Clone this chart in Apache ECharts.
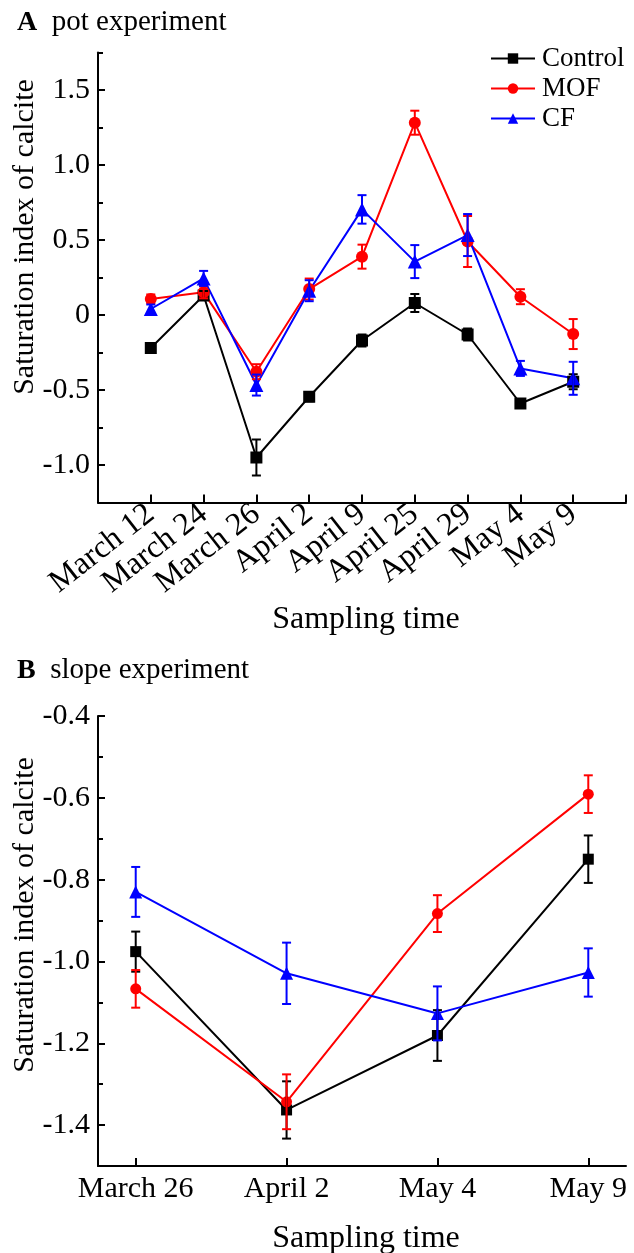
<!DOCTYPE html>
<html>
<head>
<meta charset="utf-8">
<script src="https://cdn.jsdelivr.net/npm/echarts@6/dist/echarts.min.js"></script>
<style>
html,body{margin:0;padding:0;background:#fff;}
#c{width:634px;height:1253px;}
</style>
</head>
<body>
<div id="c"></div>
<script>
// ---------- Data ----------
var topCategories = ['March 12','March 24','March 26','April 2','April 9','April 25','April 29','May 4','May 9'];
var topControl    = [-0.22, 0.13, -0.95, -0.545, -0.17, 0.08, -0.13, -0.59, -0.445];
var topControlErr = [0.03, 0.03, 0.12, 0.03, 0.04, 0.06, 0.04, 0.03, 0.05];
var topMOF        = [0.107, 0.151, -0.378, 0.173, 0.389, 1.282, 0.49, 0.122, -0.127];
var topMOFErr     = [0.03, 0.04, 0.05, 0.07, 0.08, 0.08, 0.17, 0.05, 0.10];
var topCF         = [0.04, 0.244, -0.467, 0.162, 0.704, 0.356, 0.533, -0.356, -0.422];
var topCFErr      = [0.03, 0.05, 0.07, 0.07, 0.095, 0.11, 0.14, 0.05, 0.11];

var botCategories = ['March 26','April 2','May 4','May 9'];
var botControl    = [-0.976, -1.363, -1.181, -0.75];
var botControlErr = [0.049, 0.07, 0.062, 0.058];
var botMOF        = [-1.067, -1.343, -0.883, -0.591];
var botMOFErr     = [0.046, 0.067, 0.045, 0.046];
var botCF         = [-0.83, -1.029, -1.127, -1.027];
var botCFErr      = [0.061, 0.075, 0.066, 0.059];

var topYLabels = [-1.0, -0.5, 0, 0.5, 1.0, 1.5];
var topYMinor  = [-0.75, -0.25, 0.25, 0.75, 1.25, 1.75];
var botYLabels = [-1.4, -1.2, -1.0, -0.8, -0.6, -0.4];
var botYMinor  = [-1.5, -1.3, -1.1, -0.9, -0.7, -0.5];

var seriesNames = ['Control', 'MOF', 'CF'];
var colors = {Control: '#000000', MOF: '#ff0000', CF: '#0000ff'};
var symbols = {Control: 'rect', MOF: 'circle', CF: 'triangle'};

// ---------- Helpers ----------
var FONT = '"Liberation Serif", "Times New Roman", serif';
function pts(vals) { return vals.map(function (v, i) { return [i + 1, v]; }); }
function errs(vals, e) { return vals.map(function (v, i) { return [i + 1, v - e[i], v + e[i]]; }); }
function fmtTop(v) { return v === 0 ? '0' : v.toFixed(1); }
function fmtBot(v) { return v.toFixed(1); }

function errSeries(name, xi, yi, data) {
  var col = colors[name];
  return {
    name: name, type: 'custom', xAxisIndex: xi, yAxisIndex: yi, data: data, z: 5,
    renderItem: function (params, api) {
      var x = api.value(0), lo = api.value(1), hi = api.value(2);
      var p1 = api.coord([x, lo]), p2 = api.coord([x, hi]);
      var w = 4.5;
      var st = {stroke: col, lineWidth: 2};
      return {type: 'group', children: [
        {type: 'line', shape: {x1: p1[0], y1: p1[1], x2: p2[0], y2: p2[1]}, style: st},
        {type: 'line', shape: {x1: p1[0] - w, y1: p1[1], x2: p1[0] + w, y2: p1[1]}, style: st},
        {type: 'line', shape: {x1: p2[0] - w, y1: p2[1], x2: p2[0] + w, y2: p2[1]}, style: st}
      ]};
    }
  };
}
function lineSeries(name, xi, yi, data, size) {
  var col = colors[name];
  var sz = size;
  if (name === 'CF') sz = size + 2;
  return {
    name: name, type: 'line', xAxisIndex: xi, yAxisIndex: yi, data: data, z: 4,
    symbol: symbols[name], symbolSize: sz,
    lineStyle: {color: col, width: 2},
    itemStyle: {color: col},
    emphasis: {disabled: true}
  };
}

var axisLineStyle = {show: true, onZero: false, lineStyle: {color: '#000', width: 2}};

var option = {
  animation: false,
  backgroundColor: '#ffffff',
  grid: [
    {left: 98, right: 8, top: 52.5, height: 450},
    {left: 98, right: 8, top: 716, height: 450}
  ],
  legend: {
    data: seriesNames,
    orient: 'vertical',
    left: 485, top: 40,
    itemWidth: 44, itemHeight: 13, itemGap: 3,
    textStyle: {fontFamily: FONT, fontSize: 27, color: '#000', padding: [0, 0, 0, 2]},
    selectedMode: false
  },
  xAxis: [
    {
      type: 'value', gridIndex: 0, min: 0, max: 10, interval: 1,
      axisLine: axisLineStyle,
      splitLine: {show: false},
      axisTick: {show: true, inside: true, length: 8, lineStyle: {color: '#000', width: 2}},
      axisLabel: {
        rotate: 38, margin: 8, fontFamily: FONT, fontSize: 32, color: '#000',
        formatter: function (v) { return (v >= 1 && v <= 9) ? topCategories[v - 1] : ''; }
      }
    },
    {
      type: 'value', gridIndex: 1, min: 0.75, max: 4.25,
      axisLine: axisLineStyle,
      splitLine: {show: false},
      axisTick: {show: true, inside: true, length: 8, lineStyle: {color: '#000', width: 2}, customValues: [1, 2, 3, 4]},
      axisLabel: {
        margin: 8, fontFamily: FONT, fontSize: 30, color: '#000',
        customValues: [1, 2, 3, 4],
        formatter: function (v) { return botCategories[Math.round(v) - 1]; }
      }
    }
  ],
  yAxis: [
    {
      type: 'value', gridIndex: 0, min: -1.25, max: 1.75,
      axisLine: axisLineStyle, splitLine: {show: false},
      axisTick: {show: true, inside: true, length: 7, lineStyle: {color: '#000', width: 2}, customValues: topYLabels},
      axisLabel: {margin: 8, fontFamily: FONT, fontSize: 30, color: '#000', customValues: topYLabels, formatter: fmtTop}
    },
    {
      type: 'value', gridIndex: 0, min: -1.25, max: 1.75, position: 'left',
      axisLine: {show: false}, splitLine: {show: false},
      axisTick: {show: true, inside: true, length: 5, lineStyle: {color: '#000', width: 2}, customValues: topYMinor},
      axisLabel: {show: false, customValues: topYMinor}
    },
    {
      type: 'value', gridIndex: 1, min: -1.5, max: -0.4,
      axisLine: axisLineStyle, splitLine: {show: false},
      axisTick: {show: true, inside: true, length: 7, lineStyle: {color: '#000', width: 2}, customValues: botYLabels},
      axisLabel: {margin: 8, fontFamily: FONT, fontSize: 30, color: '#000', customValues: botYLabels, formatter: fmtBot}
    },
    {
      type: 'value', gridIndex: 1, min: -1.5, max: -0.4, position: 'left',
      axisLine: {show: false}, splitLine: {show: false},
      axisTick: {show: true, inside: true, length: 5, lineStyle: {color: '#000', width: 2}, customValues: botYMinor},
      axisLabel: {show: false, customValues: botYMinor}
    }
  ],
  graphic: [
    {type: 'text', left: 17, top: 8, style: {
      text: '{b|A}  pot experiment', fontFamily: FONT, fontSize: 29, fill: '#000',
      rich: {b: {fontFamily: FONT, fontSize: 28, fontWeight: 'bold', fill: '#000'}}
    }},
    {type: 'text', left: 17, top: 656, style: {
      text: '{b|B}  slope experiment', fontFamily: FONT, fontSize: 29, fill: '#000',
      rich: {b: {fontFamily: FONT, fontSize: 28, fontWeight: 'bold', fill: '#000'}}
    }},
    {type: 'text', x: 25, y: 237, rotation: Math.PI / 2, style: {
      text: 'Saturation index of calcite', fontFamily: FONT, fontSize: 30, fill: '#000',
      align: 'center', verticalAlign: 'middle'
    }},
    {type: 'text', x: 25, y: 915, rotation: Math.PI / 2, style: {
      text: 'Saturation index of calcite', fontFamily: FONT, fontSize: 30, fill: '#000',
      align: 'center', verticalAlign: 'middle'
    }},
    {type: 'text', x: 366, y: 620, style: {
      text: 'Sampling time', fontFamily: FONT, fontSize: 32, fill: '#000',
      align: 'center', verticalAlign: 'middle'
    }},
    {type: 'text', x: 366, y: 1239, style: {
      text: 'Sampling time', fontFamily: FONT, fontSize: 32, fill: '#000',
      align: 'center', verticalAlign: 'middle'
    }}
  ],
  series: [
    lineSeries('Control', 0, 0, pts(topControl), 12),
    lineSeries('MOF', 0, 0, pts(topMOF), 12),
    lineSeries('CF', 0, 0, pts(topCF), 12),
    errSeries('Control', 0, 0, errs(topControl, topControlErr)),
    errSeries('MOF', 0, 0, errs(topMOF, topMOFErr)),
    errSeries('CF', 0, 0, errs(topCF, topCFErr)),
    lineSeries('Control', 1, 2, pts(botControl), 11),
    lineSeries('MOF', 1, 2, pts(botMOF), 11),
    lineSeries('CF', 1, 2, pts(botCF), 11),
    errSeries('Control', 1, 2, errs(botControl, botControlErr)),
    errSeries('MOF', 1, 2, errs(botMOF, botMOFErr)),
    errSeries('CF', 1, 2, errs(botCF, botCFErr))
  ]
};

var chart = echarts.init(document.getElementById('c'), null, {renderer: 'canvas'});
chart.setOption(option);
</script>
</body>
</html>
